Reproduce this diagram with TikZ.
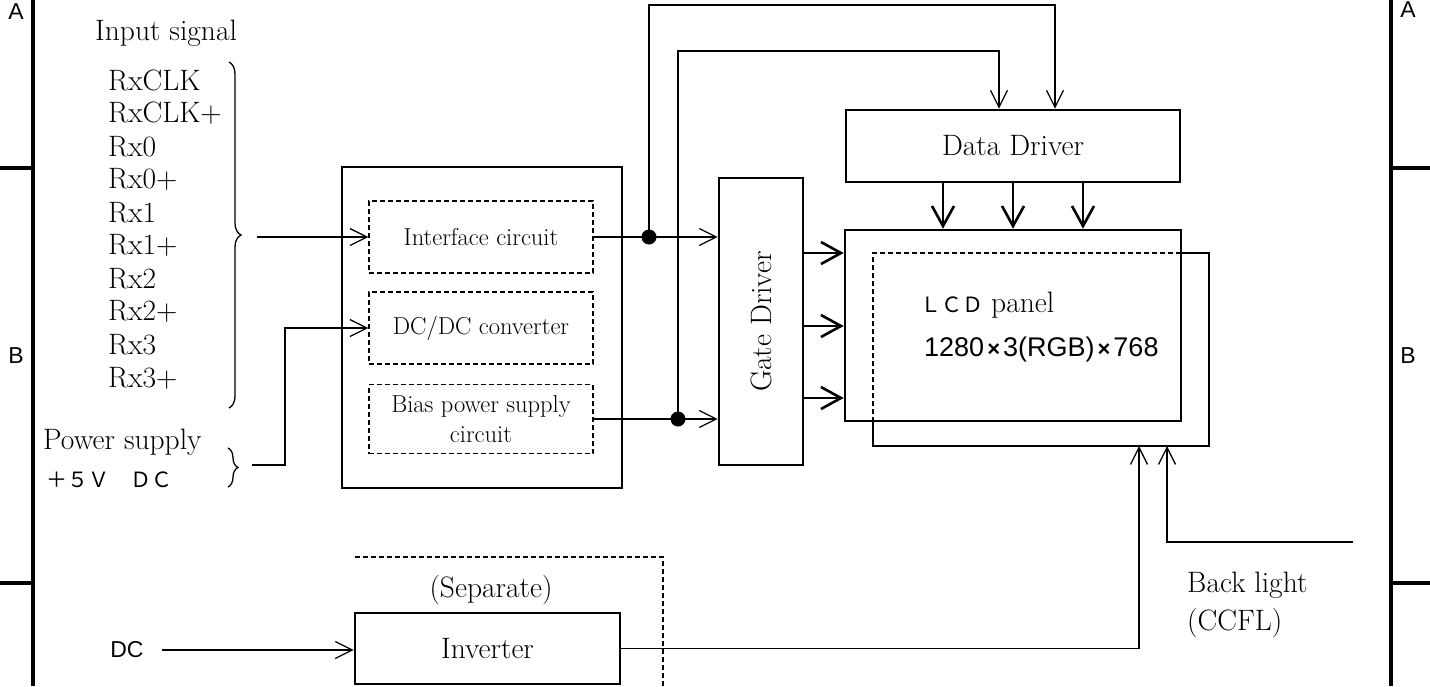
\documentclass[tikz,border=0pt]{standalone}
\usepackage{fontspec}
\newfontfamily\cjk{Noto Sans CJK JP}
\newfontfamily\arial{Liberation Sans}
\usetikzlibrary{arrows.meta,decorations.pathreplacing,calc}
\newcommand\fbig{\fontsize{29.5}{34}\selectfont}
\newcommand\fsm{\fontsize{24.5}{30}\selectfont}
\newcommand\fsans{\arial\fontsize{23}{27}\selectfont}
\begin{document}
\begin{tikzpicture}[x=1pt,y=-1pt,
  conn/.style={line width=1.3pt},
  arr/.style={conn,-{Straight Barb[length=17pt,width=17pt,line width=1.3pt]}},
  thkarr/.style={line width=2.6pt,-{Straight Barb[length=20pt,width=22pt,line width=2.6pt]}},
  blk/.style={draw,line width=2.6pt,inner sep=0pt,font=\fbig},
  dbox/.style={draw,line width=1.2pt,dash pattern=on 5pt off 3pt,inner sep=0pt,font=\fsm,align=center},
  dline/.style={line width=1.2pt,dash pattern=on 5pt off 3pt},
  frm/.style={line width=3.5pt},
  lbl/.style={inner sep=0pt,font=\fbig},
  slbl/.style={inner sep=0pt,font=\fsans},
  dot/.style={circle,fill,inner sep=0pt,minimum size=15pt},
  brc/.style={line width=1.3pt,decorate}
]
\useasboundingbox (0,0) rectangle (1430,686);
\fill[white] (0,0) rectangle (1430,686);

% frame
\draw[frm] (33,0) -- (33,686);
\draw[frm] (0,168) -- (33,168);
\draw[frm] (0,583) -- (33,583);
\draw[frm] (1391,0) -- (1391,686);
\draw[frm] (1391,168) -- (1430,168);
\draw[frm] (1391,583) -- (1430,583);
\node[slbl] (aL) at (16,12) {A};
\node[slbl] (bL) at (16,356) {B};
\node[slbl] (aR) at (1408,10) {A};
\node[slbl] (bR) at (1408,356) {B};

% input signals
\node[lbl,anchor=west] (insig) at (95,33) {Input signal};
\foreach \t [count=\i] in {RxCLK,RxCLK+,Rx0,Rx0+,Rx1,Rx1+,Rx2,Rx2+,Rx3,Rx3+}
  \node[lbl,anchor=west] (rx\i) at (108,{80+33.1*(\i-1)}) {\t};
\draw[brc,decoration={brace,amplitude=12pt}] (229,62) -- (229,408);
\node[lbl,anchor=west] (pwr) at (43,442) {Power supply};
\node[inner sep=0pt,anchor=west,font=\cjk\fontsize{21}{24}\selectfont] (pv) at (46,480) {＋５Ｖ　ＤＣ};
\draw[brc,decoration={brace,amplitude=10pt}] (228,448) -- (228,487);

% main block
\node[blk,minimum width=280pt,minimum height=321pt] (main) at (482,327.5) {};
\node[dbox,minimum width=224pt,minimum height=72pt] (ifc) at (481,237) {Interface circuit};
\node[dbox,minimum width=224pt,minimum height=72pt] (dcdc) at (481,328) {DC/DC converter};
\node[dbox,minimum width=224pt,minimum height=69pt] (bias) at (481,419) {Bias power supply\\circuit};

% drivers
\node[blk,minimum width=84pt,minimum height=287pt] (gate) at (761,321.5) {};
\node[lbl,rotate=90] (gatetxt) at (gate.center) {Gate Driver};
\node[blk,minimum width=334pt,minimum height=72pt] (data) at (1013,146) {Data Driver};

% LCD and back light
\node[minimum width=336pt,minimum height=193pt,inner sep=0pt,outer sep=0pt] (back) at (1041,349.5) {};
\coordinate (lcdr) at (1181,421);
\draw[dline] (back.north west -| lcdr) -- (back.north west) -- (back.west |- lcdr);
\draw[line width=2.6pt] (back.north west -| lcdr) -- (back.north east) -- (back.south east) -- (back.south west) -- (back.west |- lcdr);
\node[blk,minimum width=336pt,minimum height=191pt] (lcd) at (1013,325.5) {};
\node[inner sep=0pt,anchor=west] (lcdt) at (920,305) {{\cjk\fontsize{21}{24}\selectfont ＬＣＤ}\hspace{8pt}{\fbig panel}};
\node[inner sep=0pt,anchor=west,font=\arial\fontsize{27}{30}\selectfont] (res) at (924,350) {1280\hspace{3pt}{\fontsize{22}{24}\selectfont\textbf{×}}\hspace{3pt}3(RGB)\hspace{3pt}{\fontsize{22}{24}\selectfont\textbf{×}}\hspace{3pt}768};

% inverter
\node[blk,minimum width=265pt,minimum height=71pt] (inv) at (487.5,648.5) {Inverter};
\node[lbl] (sep) at (491,590) {(Separate)};
\coordinate (s1) at (355,557);
\coordinate (s2) at (663,557);
\coordinate (s3) at (663,686);
\draw[dline] (s1) -- (s2) -- (s3);
\node[slbl] (dc) at (127,650) {DC};

\node[lbl,anchor=west] (bl1) at (1187,585) {Back light};
\node[lbl,anchor=west] (bl2) at (1187,623) {(CCFL)};

% junctions
\node[dot] (d1) at (649,237) {};
\node[dot] (d2) at (678,419) {};

% connectors
\coordinate (inb) at (257,237);
\draw[arr] (inb) -- (ifc.west);
\coordinate (pwb) at (252,465);
\coordinate (pwk) at (285,465);
\draw[arr] (pwb) -- (pwk) |- (dcdc.west);
\draw[conn] (ifc.east) -- (d1.center);
\draw[arr] (d1.center) -- (gate.west |- d1);
\draw[conn] (bias.east) -- (d2.center);
\draw[arr] (d2.center) -- (gate.west |- d2);
\coordinate (t1) at (1055,5);
\coordinate (t2) at (999,51);
\draw[arr] (d1.center) |- (t1) -- (t1 |- data.north);
\draw[arr] (d2.center) |- (t2) -- (t2 |- data.north);
\coordinate (x1) at (943,0);
\coordinate (x2) at (1013,0);
\coordinate (x3) at (1083,0);
\foreach \c in {x1,x2,x3}
  \draw[thkarr] (data.south -| \c) -- (lcd.north -| \c);
\coordinate (g1) at (0,253);
\coordinate (g2) at (0,326);
\coordinate (g3) at (0,398);
\foreach \c in {g1,g2,g3}
  \draw[thkarr] (gate.east |- \c) -- (lcd.west |- \c);
\coordinate (dcs) at (162,650);
\draw[arr] (dcs) -- (inv.west |- dcs);
\coordinate (bx1) at (1139,0);
\coordinate (bx2) at (1167,0);
\coordinate (ble) at (1353,542);
\draw[arr] (inv.east) -| (back.south -| bx1);
\draw[arr] (ble) -| (back.south -| bx2);
\end{tikzpicture}
\end{document}
